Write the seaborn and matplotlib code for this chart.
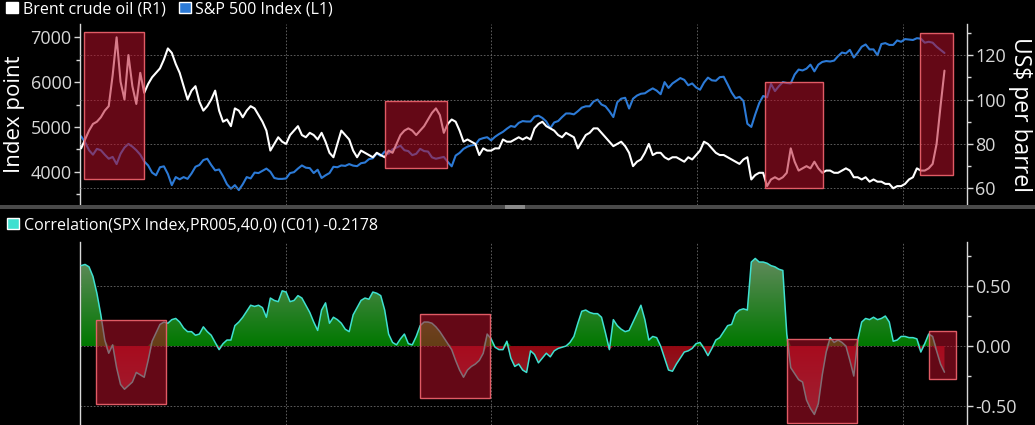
import numpy as np
import pandas as pd
import matplotlib
matplotlib.use("Agg")
import matplotlib.pyplot as plt
import matplotlib.dates as mdates
from matplotlib.patches import Rectangle, Patch
from matplotlib.path import Path
from matplotlib.ticker import MultipleLocator, FormatStrFormatter
import seaborn as sns

# weekly observations, Jan 2022 - Mar 2026
weeks = pd.date_range("2022-01-03", periods=220, freq="7D")

spx = [
    # 2022
    4790, 4660, 4480, 4380, 4510, 4480, 4380, 4290, 4330, 4170,
    4400, 4540, 4620, 4560, 4480, 4380, 4230, 4140, 3980, 3920,
    4100, 4120, 3950, 3700, 3880, 3830, 3880, 3840, 3960, 4110,
    4150, 4260, 4290, 4150, 4030, 4050, 3900, 3720, 3620, 3700,
    3590, 3720, 3880, 3850, 3980, 3970, 4020, 4070, 4000, 3860,
    3840, 3840,
    # 2023
    3850, 3970, 3990, 4070, 4140, 4090, 4080, 3970, 4045, 3860,
    3920, 3970, 4110, 4100, 4140, 4130, 4170, 4136, 4124, 4190,
    4205, 4280, 4300, 4410, 4350, 4450, 4400, 4500, 4540, 4580,
    4480, 4460, 4370, 4400, 4510, 4460, 4450, 4320, 4290, 4310,
    4330, 4220, 4120, 4360, 4420, 4510, 4560, 4590, 4600, 4720,
    4750, 4770,
    # 2024
    4700, 4780, 4840, 4890, 4960, 5020, 5000, 5090, 5130, 5120,
    5120, 5230, 5250, 5200, 5120, 4970, 5100, 5130, 5220, 5300,
    5300, 5280, 5350, 5430, 5460, 5460, 5570, 5610, 5500, 5460,
    5350, 5220, 5550, 5630, 5650, 5410, 5630, 5700, 5740, 5750,
    5810, 5860, 5810, 5730, 6000, 5870, 5970, 6030, 6090, 6050,
    5930, 5970,
    # 2025
    5880, 5830, 5990, 6100, 6040, 6030, 6110, 6120, 5950, 5770,
    5640, 5670, 5580, 5070, 5000, 5280, 5530, 5690, 5660, 5960,
    5800, 5910, 6000, 5980, 5970, 6170, 6280, 6260, 6300, 6390,
    6240, 6390, 6450, 6470, 6460, 6480, 6580, 6660, 6640, 6720,
    6550, 6660, 6790, 6840, 6730, 6730, 6600, 6850, 6870, 6830,
    6830, 6930,
    # 2026
    6900, 6960, 6950, 6940, 6980, 6970, 6880, 6900, 6880, 6790,
    6720, 6650,
]

brent = [
    # 2022
    78, 82, 86, 89, 90, 92, 95, 97, 111, 128,
    108, 100, 120, 106, 98, 112, 103, 107, 110, 112,
    114, 118, 123, 121, 116, 112, 106, 100, 104, 106,
    99, 95, 97, 100, 104, 95, 90, 91, 88, 96,
    95, 92, 95, 97, 96, 93, 90, 86, 77, 80,
    83, 81,
    # 2023
    80, 84, 86, 88, 84, 83, 85, 84, 82, 85,
    81, 76, 74, 80, 86, 84, 82, 77, 74, 77,
    76, 75, 74, 76, 75, 74, 77, 76, 80, 84,
    86, 87, 86, 84, 86, 88, 91, 94, 96, 93,
    85, 89, 91, 90, 86, 81, 82, 81, 80, 75,
    78, 77,
    # 2024
    77, 78, 78, 82, 81, 81, 82, 83, 82, 83,
    82, 87, 89, 90, 88, 87, 86, 84, 83, 85,
    84, 83, 78, 81, 84, 85, 87, 87, 85, 83,
    81, 79, 80, 81, 79, 76, 70, 72, 73, 76,
    80, 75, 76, 76, 74, 73, 74, 74, 73, 72,
    74, 73,
    # 2025
    75, 77, 81, 80, 78, 76, 75, 75, 74, 73,
    72, 71, 73, 74, 64, 66, 67, 67, 61, 64,
    65, 64, 65, 67, 78, 72, 68, 69, 70, 69,
    72, 69, 67, 68, 68, 67, 67, 68, 69, 68,
    65, 65, 64, 65, 63, 64, 63, 63, 62, 62,
    60, 61,
    # 2026
    61, 62, 64, 65, 69, 68, 68, 69, 71, 80,
    97, 113,
]

corr = [
    0.67, 0.68, 0.66, 0.58, 0.44, 0.26, 0.05, -0.06, 0.01, -0.18,
    -0.32, -0.36, -0.33, -0.30, -0.22, -0.24, -0.26, -0.12, 0.04, 0.11,
    0.18, 0.20, 0.19, 0.22, 0.23, 0.20, 0.15, 0.12, 0.12, 0.09,
    0.10, 0.16, 0.12, 0.09, 0.03, -0.03, 0.02, 0.05, 0.05, 0.17,
    0.20, 0.24, 0.29, 0.34, 0.33, 0.34, 0.32, 0.24, 0.40, 0.38,
    0.37, 0.46, 0.45, 0.37, 0.38, 0.42, 0.40, 0.34, 0.28, 0.20,
    0.13, 0.30, 0.36, 0.19, 0.24, 0.22, 0.19, 0.14, 0.12, 0.26,
    0.32, 0.38, 0.40, 0.39, 0.45, 0.44, 0.42, 0.30, 0.10, 0.03,
    0.01, 0.06, 0.10, 0.02, 0.01, 0.08, 0.17, 0.20, 0.20, 0.19,
    0.16, 0.12, 0.07, 0.02, -0.03, -0.12, -0.20, -0.26, -0.20, -0.17,
    -0.15, -0.12, -0.06, 0.10, 0.06, -0.01, -0.03, -0.03, 0.04, -0.10,
    -0.17, -0.15, -0.20, -0.22, -0.04, -0.07, -0.14, -0.10, -0.06, -0.09,
    -0.04, -0.02, -0.01, 0.00, 0.03, 0.08, 0.19, 0.29, 0.30, 0.28,
    0.27, 0.27, 0.24, 0.11, -0.03, 0.22, 0.17, 0.14, 0.12, 0.13,
    0.20, 0.27, 0.34, 0.22, 0.05, 0.08, 0.07, 0.00, -0.10, -0.20,
    -0.21, -0.15, -0.10, -0.05, -0.04, -0.02, 0.02, 0.03, -0.02, -0.08,
    -0.02, 0.05, 0.07, 0.12, 0.17, 0.18, 0.27, 0.30, 0.31, 0.30,
    0.70, 0.73, 0.70, 0.70, 0.69, 0.67, 0.66, 0.64, 0.63, 0.10,
    -0.18, -0.23, -0.28, -0.30, -0.45, -0.52, -0.57, -0.48, -0.24, -0.05,
    0.07, 0.03, 0.05, 0.03, 0.00, -0.12, -0.25, 0.05, 0.20, 0.23,
    0.22, 0.24, 0.22, 0.23, 0.25, 0.20, 0.04, 0.05, 0.08, 0.08,
    0.07, 0.07, 0.06, -0.05, 0.02, 0.10, 0.08, -0.04, -0.15, -0.2178,
]

# highlighted periods: start, end, low, high (top boxes in US$ per barrel)
box_start = ["2022-01-08", "2023-06-27", "2025-05-02", "2026-01-31"]
box_end = ["2022-04-24", "2023-10-15", "2025-08-12", "2026-04-01"]
box_low = [64.2, 69.0, 60.1, 65.9]
box_high = [130.4, 99.3, 107.9, 130.0]

cbox_start = ["2022-01-29", "2023-08-28", "2025-06-10", "2026-02-17"]
cbox_end = ["2022-06-03", "2023-12-30", "2025-10-12", "2026-04-06"]
cbox_low = [-0.483, -0.433, -0.642, -0.275]
cbox_high = [0.217, 0.267, 0.058, 0.125]

SPX_BLUE = "#2c7ad6"
CYAN = "#3fe0d0"
GRID = "#6a6a6a"
TICK = "#d8d8d8"
BOX_FACE = (0.72, 0.06, 0.16, 0.55)
BOX_EDGE = (0.92, 0.38, 0.42, 0.95)

sns.set_theme(style="dark", rc={
    "figure.facecolor": "black", "axes.facecolor": "black",
    "savefig.facecolor": "black", "text.color": "white",
    "axes.labelcolor": "white", "xtick.color": TICK, "ytick.color": TICK,
    "axes.unicode_minus": False,
})
plt.rcParams["font.family"] = ["Open Sans", "DejaVu Sans"]

W, H = 1035, 425
fig = plt.figure(figsize=(W / 100, H / 100), dpi=100)


def px_box(x0, y0, x1, y1):
    return [x0 / W, 1 - y1 / H, (x1 - x0) / W, (y1 - y0) / H]


ax = fig.add_axes(px_box(80, 24, 967, 205))
axr = ax.twinx()
axc = fig.add_axes(px_box(80, 242, 967, 425))

xmin, xmax = pd.Timestamp("2022-01-01"), pd.Timestamp("2026-04-25")

# price panel
sns.lineplot(x=weeks, y=spx, ax=ax, color=SPX_BLUE, lw=1.5)
sns.lineplot(x=weeks, y=brent, ax=axr, color="white", lw=1.5)

for s, e, lo, hi in zip(box_start, box_end, box_low, box_high):
    x0 = mdates.date2num(pd.Timestamp(s))
    x1 = mdates.date2num(pd.Timestamp(e))
    axr.add_patch(Rectangle((x0, lo), x1 - x0, hi - lo, facecolor=BOX_FACE,
                            edgecolor=BOX_EDGE, lw=1, zorder=5))

ax.set_ylim(3257, 7297)
axr.set_ylim(52.5, 134.0)
ax.yaxis.set_major_locator(MultipleLocator(1000))
ax.yaxis.set_minor_locator(MultipleLocator(500))
axr.yaxis.set_major_locator(MultipleLocator(20))
axr.yaxis.set_minor_locator(MultipleLocator(10))
axr.set_yticks([60, 80, 100, 120])
axr.grid(axis="y", color=GRID, ls=(0, (2, 2)), lw=0.6)
ax.grid(axis="x", color=GRID, ls=(0, (2, 2)), lw=0.6)


# correlation panel with gradient fills
def gradient_fill(axis, x, y, lo, hi, c_lo, c_hi):
    xn = mdates.date2num(x)
    verts = np.column_stack([np.r_[xn[0], xn, xn[-1]], np.r_[0, y, 0]])
    t = np.linspace(0, 1, 256)[:, None, None]
    img = (1 - t) * np.array(c_lo) + t * np.array(c_hi)
    im = axis.imshow(img, extent=[xn[0], xn[-1], lo, hi], origin="lower",
                     aspect="auto", interpolation="bilinear", zorder=1)
    im.set_clip_path(Path(verts), transform=axis.transData)


corr_arr = np.array(corr)
gradient_fill(axc, weeks, np.maximum(corr_arr, 0), 0, 0.8,
              (0.0, 0.47, 0.0), (0.42, 0.55, 0.40))
gradient_fill(axc, weeks, np.minimum(corr_arr, 0), -0.7, 0,
              (0.48, 0.26, 0.28), (0.58, 0.03, 0.07))
sns.lineplot(x=weeks, y=corr, ax=axc, color=CYAN, lw=1.1, zorder=3)

for s, e, lo, hi in zip(cbox_start, cbox_end, cbox_low, cbox_high):
    x0 = mdates.date2num(pd.Timestamp(s))
    x1 = mdates.date2num(pd.Timestamp(e))
    axc.add_patch(Rectangle((x0, lo), x1 - x0, hi - lo, facecolor=BOX_FACE,
                            edgecolor=BOX_EDGE, lw=1, zorder=5))

axc.set_ylim(-0.658, 0.867)
axc.yaxis.tick_right()
axc.yaxis.set_major_locator(MultipleLocator(0.5))
axc.yaxis.set_minor_locator(MultipleLocator(0.25))
axc.yaxis.set_major_formatter(FormatStrFormatter("%.2f"))
axc.grid(axis="both", color=GRID, ls=(0, (2, 2)), lw=0.6)

for a in (ax, axc):
    a.set_xlim(xmin, xmax)
    a.xaxis.set_major_locator(mdates.YearLocator())
    a.tick_params(axis="x", length=0, labelbottom=False)
    a.set_xlabel("")
for a in (ax, axr, axc):
    for side in ("top", "bottom"):
        a.spines[side].set_visible(False)
    for side in ("left", "right"):
        a.spines[side].set_color(TICK)
        a.spines[side].set_linewidth(1)
ax.spines["right"].set_visible(False)
axr.spines["left"].set_visible(False)

ax.tick_params(axis="y", which="both", left=True, right=False, direction="out",
               labelsize=13, pad=2, width=1)
ax.tick_params(axis="y", which="major", length=4)
ax.tick_params(axis="y", which="minor", length=3)
axr.tick_params(axis="y", which="both", right=True, left=False, direction="out",
                labelsize=13, pad=2, width=1)
axr.tick_params(axis="y", which="major", length=4)
axr.tick_params(axis="y", which="minor", length=3)
axc.tick_params(axis="y", which="both", right=True, left=False, labelright=True,
                labelleft=False, direction="out", labelsize=13, pad=2, width=1)
axc.tick_params(axis="y", which="major", length=4)
axc.tick_params(axis="y", which="minor", length=3)

ax.set_ylabel("Index point", fontsize=16, va="center")
ax.yaxis.set_label_coords(-0.074, 0.5)
axr.set_ylabel("US$ per barrel", fontsize=16.5, rotation=270, va="center")
axr.yaxis.set_label_coords(1.06, 0.5)

# legends
fig.legend([Patch(facecolor="white"), Patch(facecolor=SPX_BLUE)],
           ["Brent crude oil (R1)", "S&P 500 Index (L1)"],
           loc="upper left", bbox_to_anchor=(0.006, 1 - 1 / H), ncol=2,
           frameon=False, fontsize=11.5, labelcolor="white",
           handlelength=0.75, handleheight=0.75, handletextpad=0.3,
           columnspacing=0.8, borderpad=0, borderaxespad=0)
fig.legend([Patch(facecolor=CYAN)],
           ["Correlation(SPX Index,PR005,40,0) (C01) -0.2178"],
           loc="upper left", bbox_to_anchor=(0.007, 1 - 217 / H),
           frameon=False, fontsize=11.5, labelcolor="white",
           handlelength=0.75, handleheight=0.75, handletextpad=0.3,
           borderpad=0, borderaxespad=0)

# panel divider
fig.add_artist(Rectangle((0, 1 - 209 / H), 1, 4 / H, transform=fig.transFigure,
                         facecolor="#4a4a4a", edgecolor="none"))
fig.add_artist(Rectangle((505 / W, 1 - 209 / H), 20 / W, 4 / H,
                         transform=fig.transFigure, facecolor="#8a8a8a",
                         edgecolor="none"))

fig.savefig("out.png", dpi=100)
